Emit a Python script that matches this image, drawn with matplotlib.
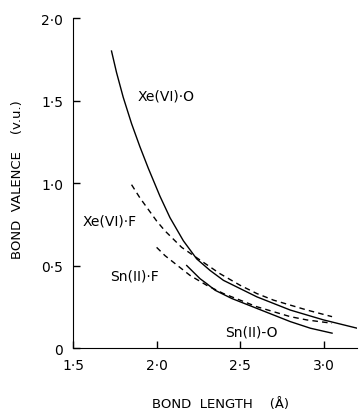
import matplotlib
matplotlib.use("Agg")
from matplotlib import pyplot as plt

# values
xe_o_x = [1.73, 1.76, 1.80, 1.85, 1.90, 1.95, 2.02, 2.08, 2.16, 2.24, 2.32, 2.40, 2.50, 2.60, 2.70, 2.80, 2.90, 3.00, 3.10, 3.20]
xe_o_y = [1.80, 1.67, 1.52, 1.36, 1.22, 1.09, 0.92, 0.79, 0.65, 0.54, 0.47, 0.41, 0.36, 0.31, 0.27, 0.23, 0.20, 0.17, 0.145, 0.12]

xe_f_x = [1.85, 1.90, 1.95, 2.00, 2.05, 2.10, 2.15, 2.25, 2.38, 2.50, 2.60, 2.70, 2.80, 2.90, 3.05]
xe_f_y = [0.99, 0.91, 0.84, 0.77, 0.71, 0.66, 0.61, 0.54, 0.45, 0.38, 0.33, 0.29, 0.26, 0.23, 0.19]

sn_f_x = [2.00, 2.05, 2.10, 2.15, 2.20, 2.30, 2.40, 2.50, 2.60, 2.70, 2.80, 2.90, 3.05]
sn_f_y = [0.61, 0.56, 0.52, 0.48, 0.44, 0.38, 0.33, 0.29, 0.25, 0.22, 0.19, 0.17, 0.15]

sn_o_x = [2.18, 2.22, 2.26, 2.30, 2.35, 2.45, 2.55, 2.65, 2.80, 2.92, 3.05]
sn_o_y = [0.50, 0.46, 0.42, 0.39, 0.35, 0.30, 0.26, 0.22, 0.16, 0.12, 0.09]

x_ticks = [1.5, 2.0, 2.5, 3.0]
x_tick_labels = ["1·5", "2·0", "2·5", "3·0"]
y_ticks = [0, 0.5, 1.0, 1.5, 2.0]
y_tick_labels = ["0", "0·5", "1·0", "1·5", "2·0"]

fig = plt.figure(figsize=(3.6, 4.14), dpi=100)
ax = fig.add_axes([0.203, 0.157, 0.789, 0.797])

ax.plot(xe_o_x, xe_o_y, color="black", lw=1.0)
ax.plot(xe_f_x, xe_f_y, color="black", lw=1.0, dashes=(4, 3))
ax.plot(sn_f_x, sn_f_y, color="black", lw=1.0, dashes=(4, 3))
ax.plot(sn_o_x, sn_o_y, color="black", lw=1.0)

ax.text(1.885, 1.53, "Xe(VI)·O", fontsize=10, va="center")
ax.text(1.555, 0.77, "Xe(VI)·F", fontsize=10, va="center")
ax.text(1.72, 0.44, "Sn(II)·F", fontsize=10, va="center")
ax.text(2.41, 0.10, "Sn(II)-O", fontsize=10, va="center")

ax.set_xlim(1.5, 3.2)
ax.set_ylim(0, 2.0)
ax.set_xticks(x_ticks)
ax.set_xticklabels(x_tick_labels)
ax.set_yticks(y_ticks)
ax.set_yticklabels(y_tick_labels)
ax.tick_params(direction="in", length=5, width=1, labelsize=10, pad=7)
ax.spines["top"].set_visible(False)
ax.spines["right"].set_visible(False)

fig.text(220 / 360, 1 - 405 / 414, "BOND  LENGTH    (Å)", fontsize=9.5, ha="center", va="center")
fig.text(18 / 360, 1 - 180 / 414, "BOND  VALENCE    (v.u.)", fontsize=9.5, ha="center", va="center", rotation=90)

fig.savefig("out.png", dpi=100)
